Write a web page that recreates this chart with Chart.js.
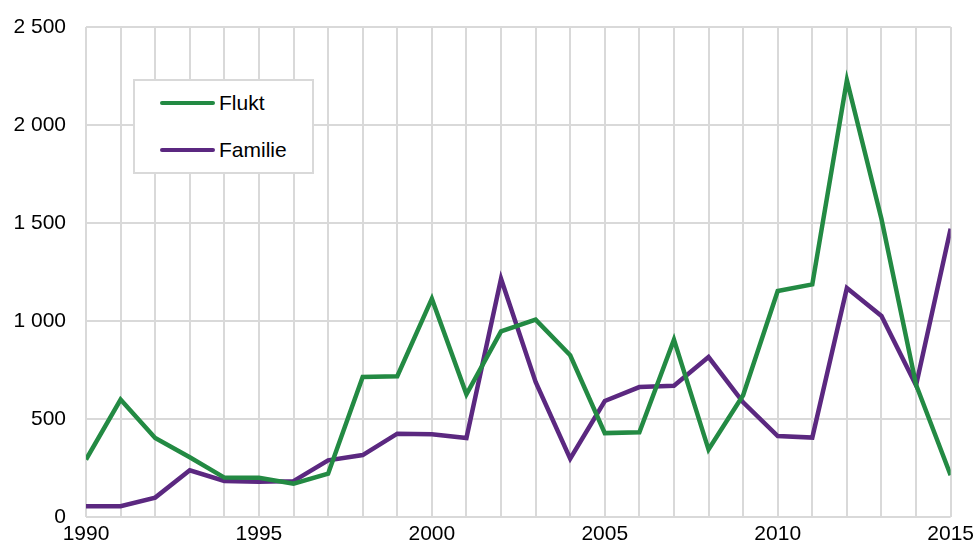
<!DOCTYPE html>
<html>
<head>
<meta charset="utf-8">
<script src="https://cdn.jsdelivr.net/npm/chart.js@4/dist/chart.umd.min.js"></script>
<style>
  html, body { margin: 0; padding: 0; background: #fff; }
  #wrap { position: relative; width: 979px; height: 544px; }
  canvas { display: block; }
  #legend { position: absolute; left: 133px; top: 79px; width: 177px; height: 91px;
    border: 2px solid #d9d9d9; background: #fff; box-sizing: content-box;
    font-family: "Liberation Sans", Arial, sans-serif; font-size: 21px; color: #000; }
  .item { position: absolute; left: 25px; height: 24px; line-height: 24px; display: flex; align-items: center; white-space: nowrap; }
  .swatch { width: 55px; height: 4.5px; border-radius: 2px; margin-right: 4px; }
</style>
</head>
<body>
<div id="wrap">
  <canvas id="c" width="979" height="544"></canvas>
  <div id="legend"></div>
</div>
<script>
const years = [1990,1991,1992,1993,1994,1995,1996,1997,1998,1999,2000,2001,2002,2003,2004,2005,2006,2007,2008,2009,2010,2011,2012,2013,2014,2015];
const flukt = [293,599,403,305,201,200,170,221,714,718,1114,626,947,1007,825,428,432,905,344,621,1153,1187,2228,1520,675,213];
const familie = [55,55,99,238,184,180,183,289,316,425,422,403,1216,689,298,592,663,670,816,585,413,405,1168,1026,672,1471];
const seriesNames = ["Flukt","Familie"];
const seriesColors = ["#238a43","#5b2880"];
const yTicks = [0,500,1000,1500,2000,2500];

const fmt = v => String(v).replace(/\B(?=(\d{3})+(?!\d))/g, ' ');
const font = { family: '"Liberation Sans", Arial, sans-serif', size: 21 };

const datasets = [flukt, familie].map((d, i) => ({
  label: seriesNames[i],
  data: d.map((v, j) => ({ x: years[j], y: v })),
  borderColor: seriesColors[i],
  backgroundColor: seriesColors[i],
  borderWidth: 4.5,
  pointRadius: 0,
  tension: 0,
  fill: false
}));

new Chart(document.getElementById('c'), {
  type: 'line',
  data: { datasets },
  options: {
    responsive: false,
    animation: false,
    layout: { padding: { top: 27, right: 26, left: 0, bottom: 0 } },
    plugins: { legend: { display: false }, tooltip: { enabled: false } },
    scales: {
      x: {
        type: 'linear',
        min: 1990, max: 2015,
        afterBuildTicks: s => { s.ticks = years.map(v => ({ value: v })); },
        afterFit: s => { s.height = 27; },
        grid: { color: '#d9d9d9', lineWidth: 2, drawTicks: false },
        border: { display: false },
        ticks: {
          autoSkip: false, maxRotation: 0, padding: 5, color: '#000', font,
          callback: v => (v % 5 === 0 ? String(v) : '')
        }
      },
      y: {
        min: 0, max: 2500,
        afterBuildTicks: s => { s.ticks = yTicks.map(v => ({ value: v })); },
        afterFit: s => { s.width = 86; },
        grid: { color: '#d9d9d9', lineWidth: 2, drawTicks: true, tickLength: 17, tickColor: 'rgba(0,0,0,0)' },
        border: { display: false },
        ticks: { padding: 3, color: '#000', font, callback: v => fmt(v) }
      }
    }
  }
});

const lg = document.getElementById('legend');
seriesNames.forEach((n, i) => {
  const el = document.createElement('div');
  el.className = 'item';
  el.style.top = (i === 0 ? 10 : 57) + 'px';
  el.innerHTML = '<span class="swatch" style="background:' + seriesColors[i] + '"></span><span>' + n + '</span>';
  lg.appendChild(el);
});
</script>
</body>
</html>
